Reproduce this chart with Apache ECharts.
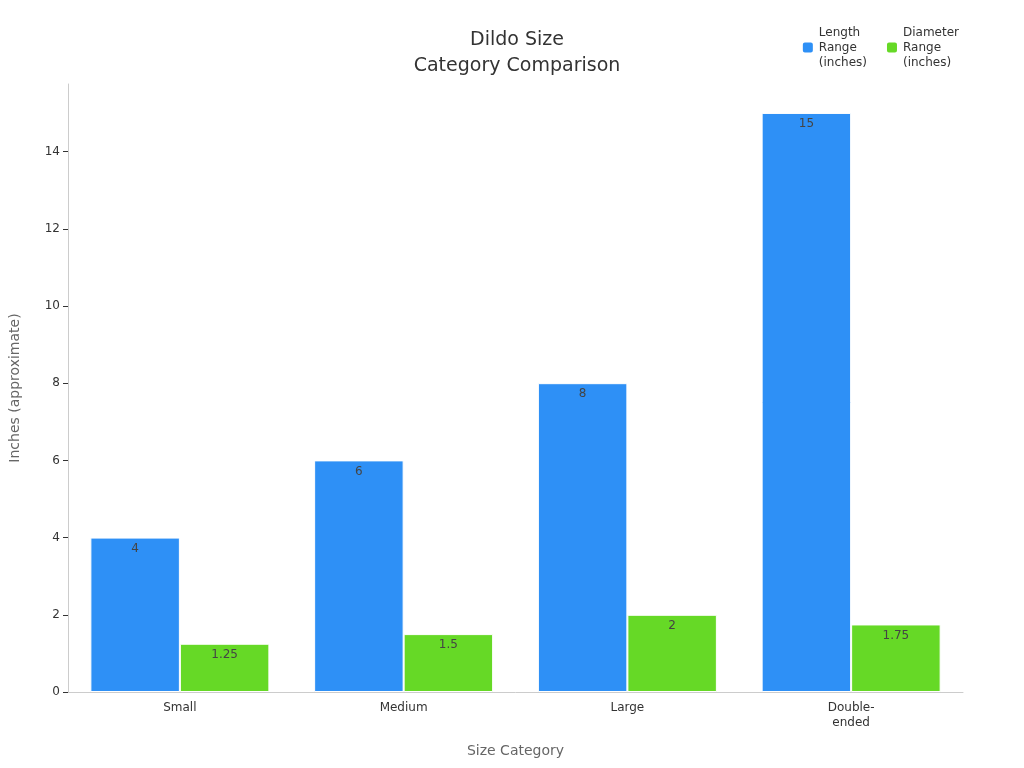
<!DOCTYPE html>
<html>
<head>
<meta charset="utf-8">
<script src="https://cdn.jsdelivr.net/npm/echarts@6/dist/echarts.min.js"></script>
<style>html,body{margin:0;padding:0}#main{width:1024px;height:768px}</style>
</head>
<body>
<div id="main"></div>
<script>
const categories = ['Small', 'Medium', 'Large', 'Double-\nended'];
const lengthValues = [4, 6, 8, 15];
const diameterValues = [1.25, 1.5, 2, 1.75];

const chart = echarts.init(document.getElementById('main'));
const font = 'DejaVu Sans';

chart.setOption({
  textStyle: { fontFamily: font },
  title: {
    text: 'Dildo Size\nCategory Comparison',
    left: 512, top: 22, textAlign: 'center',
    textStyle: { fontSize: 19, fontWeight: 'normal', color: '#333', lineHeight: 26, fontFamily: font }
  },
  legend: {
    right: 60, top: 20, itemWidth: 12, itemHeight: 12, itemGap: 18,
    textStyle: { fontSize: 12, color: '#333', lineHeight: 15 },
    data: ['Length\nRange\n(inches)', 'Diameter\nRange\n(inches)']
  },
  grid: { left: 60, right: 61, top: 84, bottom: 76 },
  xAxis: {
    type: 'category', data: categories,
    name: 'Size Category', nameLocation: 'middle', nameGap: 52,
    nameTextStyle: { fontSize: 14, color: '#666' },
    axisLine: { lineStyle: { color: '#ccc' } },
    axisTick: { show: false },
    axisLabel: { color: '#333', fontSize: 12, lineHeight: 15 }
  },
  yAxis: {
    type: 'value', min: 0, max: 15.75, interval: 2,
    name: 'Inches (approximate)', nameLocation: 'middle', nameGap: 46,
    nameTextStyle: { fontSize: 14, color: '#666' },
    axisLine: { show: true, lineStyle: { color: '#ccc' } },
    axisTick: { show: true, lineStyle: { color: '#333' } },
    splitLine: { show: false },
    axisLabel: { color: '#333', fontSize: 12, showMaxLabel: false }
  },
  series: [
    {
      name: 'Length\nRange\n(inches)', type: 'bar', data: lengthValues,
      barGap: '0%', barCategoryGap: '20%',
      itemStyle: { color: '#2e90f6', borderColor: '#fff', borderWidth: 1 },
      label: { show: true, position: 'insideTop', color: '#444', fontSize: 12 }
    },
    {
      name: 'Diameter\nRange\n(inches)', type: 'bar', data: diameterValues,
      itemStyle: { color: '#66d926', borderColor: '#fff', borderWidth: 1 },
      label: { show: true, position: 'insideTop', color: '#444', fontSize: 12 }
    }
  ]
});
</script>
</body>
</html>
